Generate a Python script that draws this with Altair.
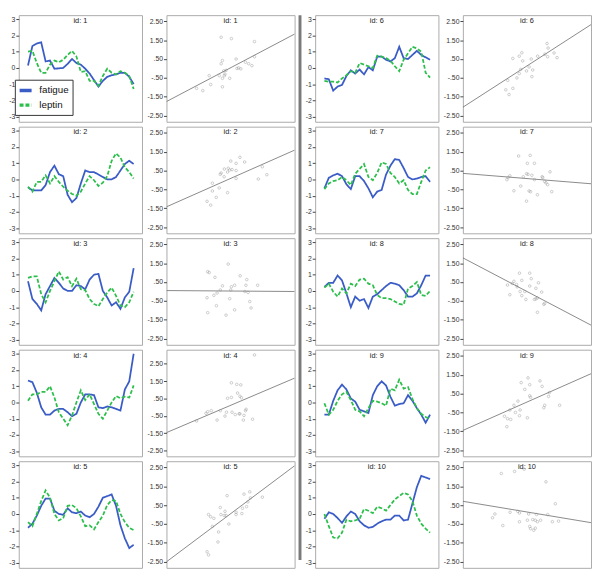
import altair as alt
import pandas as pd

days = list(range(1, 26))
ids = list(range(1, 11))
series_names = ["fatigue", "leptin"]

fatigue = [
    [0.15, 1.35, 1.5, 1.57, 0.4, 0.45, -0.05, -0.03, 0.0, 0.25, 0.55, 0.3, 0.2, -0.05, -0.35, -0.75, -1.15, -0.8, -0.55, -0.45, -0.4, -0.3, -0.3, -0.55, -1.0],
    [-0.48, -0.68, -0.68, -0.68, -0.35, 0.45, 0.85, 0.32, 0.2, -0.95, -1.4, -1.15, -0.25, 0.55, 0.45, 0.45, 0.3, 0.15, 0.0, 0.0, 0.15, 0.55, 0.95, 1.15, 0.95],
    [0.6, -0.5, -0.8, -1.2, -0.2, 0.3, 0.8, 0.5, 0.15, 0.0, 0.0, 0.35, 0.3, 0.1, 0.7, 1.0, 1.05, 0.0, -0.4, -0.9, -0.7, -1.1, -0.4, -0.05, 1.4],
    [1.35, 1.25, 0.6, -0.3, -0.75, -0.75, -0.5, -0.4, -0.4, -0.6, -0.85, -0.7, 0.0, 0.5, 0.5, 0.45, -0.3, -0.35, -0.25, -0.3, -0.4, -0.5, 0.8, 1.3, 3.0],
    [-0.85, -0.6, -0.1, 0.5, 0.95, 0.95, 0.2, 0.0, -0.05, 0.35, 0.1, 0.05, 0.15, -0.1, -0.2, 0.0, 0.45, 1.0, 1.1, 1.2, 0.5, -0.7, -1.5, -2.1, -1.9],
    [-0.65, -0.7, -1.4, -1.15, -1.05, -0.5, -0.15, -0.35, -0.1, -0.4, 0.05, -0.15, 0.7, 0.7, 0.5, 0.4, 0.6, 1.3, 0.6, 0.55, 0.8, 1.05, 0.8, 0.65, 0.5],
    [-0.55, 0.1, 0.25, 0.35, 0.2, -0.3, -0.6, 0.2, 0.2, -0.1, -0.55, -1.1, -0.75, -0.65, 0.3, 0.85, 1.25, 1.2, 0.7, 0.15, 0.0, 0.05, 0.15, 0.2, -0.15],
    [0.25, 0.5, 0.5, 0.95, 0.65, -0.15, -1.0, -0.35, -0.6, -0.5, -1.05, -0.35, -0.2, 0.05, 0.3, 0.5, 0.45, 0.35, 0.05, -0.35, -0.35, -0.15, 0.35, 0.95, 0.95],
    [-0.75, -0.75, 0.1, 0.75, 1.1, 0.8, 0.25, 0.05, -0.45, -0.55, -0.65, 0.45, 1.0, 1.3, 1.05, 0.35, -0.2, -0.1, -0.05, 0.45, 0.1, -0.35, -0.75, -1.25, -0.75],
    [-0.3, 0.1, 0.0, -0.25, -0.55, -0.15, 0.15, 0.0, -0.45, -0.7, -0.85, -0.8, -0.6, -0.45, -0.35, -0.35, -0.1, -0.1, -0.4, -0.35, 0.65, 1.65, 2.35, 2.25, 2.15],
]

leptin = [
    [1.0, 1.05, 0.3, -0.3, -0.3, 0.2, 0.45, 0.35, 0.5, 0.8, 1.05, 0.7, -0.25, -0.2, -0.8, -0.8, -1.1, -0.5, -0.05, -0.3, -0.4, -0.2, -0.3, -0.5, -1.3],
    [-0.45, -0.75, -0.15, -0.15, 0.25, -0.25, 0.2, -0.15, -0.45, -0.7, -0.9, -1.0, -0.75, -0.25, 0.2, -0.05, -0.4, -0.2, 0.2, 1.15, 1.6, 1.35, 0.75, 0.45, 0.05],
    [0.8, 0.9, 0.9, -0.2, -0.7, 0.0, 0.6, 1.2, 0.7, 0.85, 0.3, 0.75, 0.1, 0.05, -0.5, -0.8, -0.95, -0.5, -0.1, 0.2, -0.3, -0.9, -1.0, -0.7, -0.05],
    [0.1, 0.5, 0.5, 0.65, 0.65, 1.0, 0.3, -0.6, -1.0, -1.4, -0.8, 0.0, 0.75, 0.15, 0.5, -0.1, -0.7, -1.0, -0.5, 0.0, 0.4, 0.25, 0.35, 0.3, 1.05],
    [-0.5, -0.75, 0.0, 0.8, 1.45, 1.0, 0.0, -0.4, -0.25, 0.5, 0.55, 0.35, -0.15, -0.75, -0.7, -0.95, -0.5, -0.1, 0.55, 0.85, 0.8, 0.0, -0.5, -0.85, -1.0],
    [-0.8, -0.85, -0.85, -0.9, -0.65, -0.45, -0.2, -0.3, 0.3, 0.2, 0.1, 0.0, 0.75, 0.7, 0.6, 0.45, 0.1, -0.2, 0.5, 0.9, 1.3, 1.2, 1.0, -0.3, -0.6],
    [-0.6, -0.25, -0.1, -0.05, 0.15, -0.05, -0.35, 0.35, 0.65, 0.95, 0.15, -0.05, 0.4, 1.05, 0.95, 0.4, 0.15, -0.25, -0.05, -0.65, -0.9, -0.9, -0.15, 0.55, 0.75],
    [0.2, 0.45, -0.05, -0.35, 0.15, -0.15, 0.45, 0.3, 0.7, 0.75, 0.45, 0.35, -0.25, -0.45, -0.45, -0.5, -0.65, -0.8, -0.85, 0.15, 0.3, 0.55, -0.25, -0.3, 0.0],
    [-0.05, -0.75, -0.45, 0.1, 0.5, 0.65, 0.15, -0.45, -0.55, -0.85, -0.35, 0.1, 0.05, -0.05, -0.2, 0.85, 0.75, 1.4, 0.85, 0.95, 0.2, -0.35, -0.7, -0.9, -1.0],
    [0.0, -0.75, -1.45, -1.5, -1.15, -0.35, -0.45, -0.4, -0.3, 0.3, 0.2, 0.05, 0.45, 0.35, 0.2, 0.55, 0.9, 1.1, 1.3, 1.2, 0.8, -0.1, -0.6, -0.9, -1.15],
]

scatter_x = [
    [-1.59, -1.30, -1.0, -0.93, -0.53, -0.44, -0.38, -0.44, 0.04, -0.38, -0.38, -0.29, -0.32, -0.21, -0.04, 0.26, 0.30, 0.38, 0.48, 0.70, 0.85, 1.0, 1.12, 1.12, -0.26],
    [-1.10, -0.93, -0.85, -0.85, -0.67, -0.53, -0.48, -0.44, -0.30, -0.29, -0.14, -0.11, -0.04, 0.01, 0.07, 0.26, 0.26, 0.26, -0.14, 0.44, 0.66, 1.30, 1.49, 1.70],
    [-1.07, -1.0, -0.73, -0.11, 0.45, 0.76, 1.27, 0.72, 0.19, 0.04, -0.38, -0.48, 0.01, 0.67, 0.82, -0.63, -0.78, -1.10, -0.04, -0.66, 0.90, 0.96, 0.19, -1.07, -0.21],
    [1.12, 0.04, 0.29, 0.48, -0.14, 0.04, 0.33, 0.44, 0.51, 0.70, 0.73, -0.48, -0.19, 0.07, 0.22, 0.40, 0.44, 0.63, -1.15, -1.07, -0.90, -0.63, -0.26, 0.60, 1.03, -1.59],
    [-0.16, 0.63, 0.90, 0.93, 1.49, 0.81, 0.56, 0.75, 0.26, 0.26, -0.48, -0.26, -0.45, -0.30, -0.21, -1.03, -0.93, -0.78, -0.85, -0.08, -0.56, -0.59, -1.10, -1.03, 0.53],
    [0.94, 0.99, 0.84, 1.27, 0.97, 1.41, 0.50, 0.20, -0.24, -0.36, -0.66, -0.20, 0.10, -0.29, 0.27, -0.02, -0.36, -0.47, 0.23, -0.90, -0.66, -0.99, -0.84],
    [-0.39, 0.15, 0.02, 0.35, 1.08, -0.02, 0.05, 0.23, -0.17, 0.71, 0.74, -0.80, -0.88, -0.94, 0.35, 0.83, 0.89, -0.29, 0.97, -0.61, 0.10, 0.17, 0.49, 1.16, -0.02],
    [-0.35, 0.13, -0.61, -0.24, 0.20, 0.54, -0.91, -0.49, -0.46, -0.69, 0.13, 0.42, -0.10, 0.69, -0.80, -0.24, 0.49, -0.05, 0.35, 0.42, 0.83, 0.79, 0.49, -0.32],
    [0.05, -0.27, 0.13, 0.61, 0.71, -0.10, 0.13, 0.17, 1.05, 1.01, -0.42, -0.61, 0.83, 0.79, 1.53, -0.80, -0.54, -0.32, -0.35, -1.05, -0.91, -0.76, 0.02, -0.94],
    [-1.20, -0.58, -0.13, 0.89, 1.33, -1.50, -1.61, -1.13, -0.79, -0.43, -0.35, 0.08, 0.45, 0.97, -0.35, 0.02, 0.27, 0.39, 0.49, 0.64, 1.19, 1.48, 0.13, 0.17, 0.32, 0.39],
]

scatter_y = [
    [-1.05, -1.17, -0.38, -0.85, -0.38, 0.25, 0.42, 1.65, 1.58, -0.52, -0.97, -0.38, -0.13, -0.10, -0.52, 0.5, 0.0, 0.03, -0.02, 0.33, 0.25, 0.15, 0.62, 1.42, -0.3],
    [-1.13, -1.33, -0.17, -0.58, -0.92, -0.42, 0.30, 0.37, 0.17, 0.58, 0.42, 0.62, 0.53, 1.0, 0.55, 0.88, 0.5, 0.08, -0.67, 1.2, 0.95, 0.05, 0.7, 0.28],
    [1.05, 1.0, 0.75, 1.45, 0.83, 0.63, 0.33, 0.33, 0.33, 0.25, 0.30, 0.08, 0.08, 0.0, -0.05, -0.08, -0.2, -0.33, -0.38, -0.75, -0.53, -0.87, -0.97, -1.12, -1.25],
    [3.0, 1.40, 1.31, 1.28, 0.51, 0.56, 0.81, 0.63, 0.54, -0.2, -0.12, -0.2, -0.29, -0.29, -0.42, -0.38, -0.38, -0.47, -0.35, -0.26, -0.2, -0.74, -0.51, -0.74, -0.69, -0.79],
    [1.0, 1.08, 1.2, 0.88, 0.92, 0.67, 0.33, 0.42, 0.12, 0.0, 0.37, 0.17, 0.0, -0.05, -0.05, 0.0, -0.12, -0.2, -0.63, -0.5, -0.92, -1.45, -1.97, -2.13, 0.05],
    [1.32, 1.08, 0.75, 0.82, 0.62, 0.57, 0.65, 0.5, 0.83, 0.65, 0.53, 0.4, 0.08, -0.05, -0.08, -0.13, -0.27, -0.5, -0.43, -0.63, -1.05, -1.13, -1.38],
    [1.27, 1.3, 0.88, 0.88, 0.43, 0.33, 0.3, 0.25, 0.17, 0.17, 0.13, 0.22, 0.13, 0.02, 0.02, -0.08, -0.15, -0.32, -0.25, -0.57, -0.58, -0.62, -0.78, -0.62, -1.12],
    [0.97, 0.97, 0.54, 0.59, 0.68, 0.46, 0.34, 0.37, 0.25, 0.42, 0.29, 0.17, 0.0, -0.03, -0.17, -0.22, -0.34, -0.42, -0.42, -0.39, -0.63, -0.68, -1.10, 0.0],
    [1.33, 1.08, 0.97, 1.17, 0.88, 0.72, 0.38, 0.3, 0.55, 0.35, 0.1, -0.12, -0.12, -0.25, -0.12, -0.37, -0.5, -0.37, -0.67, -0.7, -0.83, -0.87, -0.78, -1.25],
    [2.17, 2.28, 2.4, 1.73, 0.57, 0.03, -0.17, -0.58, 0.12, 0.17, 0.08, 0.03, 0.0, 0.0, -0.38, -0.3, -0.27, -0.3, -0.38, -0.3, -0.38, -0.35, -0.63, -0.75, -0.83, -0.72],
]

# fitted line values at the left and right edges of each scatter panel
line_left = [-1.75, -1.42, 0.05, -1.46, -2.5, -2.05, 0.35, 1.78, -1.45, 0.7]
line_right = [1.82, 1.58, 0.0, 1.67, 2.58, 2.32, -0.2, -1.78, 1.55, -0.43]

# ---------------------------------------------------------------- styling
FONT = "Liberation Sans"
TS_W, SC_W, H, VSP = 126, 131, 109, 3
TOTAL_H = 5 * H + 4 * VSP
TS_DOM = [-3.32, 3.25]
SC_DOMS = [[-2.82, 2.82]] * 10
SC_DOMS[3] = [-2.82, 3.3]
X_SC = [-3, 3]

legend = alt.Legend(
    orient="none", legendX=-4, legendY=66, title=None,
    symbolType="stroke", symbolSize=150, symbolStrokeWidth=3.5,
    labelFontSize=10, labelFont=FONT, labelColor="#111",
    strokeColor="#333", fillColor="white", padding=3,
    rowPadding=0, labelOffset=6, cornerRadius=0,
)

ts_axis = alt.Axis(
    values=[-3, -2, -1, 0, 1, 2, 3], title=None, grid=False, domain=False,
    tickSize=3, tickColor="#444", labelFontSize=7, labelFont=FONT,
    labelColor="#333", labelPadding=1, labelExpr="datum.value + ''",
)
sc_axis = alt.Axis(
    values=[-2.5, -1.5, -0.5, 0.5, 1.5, 2.5], title=None, grid=False, domain=False,
    tickSize=3, tickColor="#444", labelFontSize=7, labelFont=FONT,
    labelColor="#333", labelPadding=1,
    labelExpr="replace(replace(format(datum.value, '.2f'), '\u2212', '-'), '0.', '.')",
)


def title_layer(i, w):
    return alt.Chart(pd.DataFrame({"t": [f"id: {i}"]})).mark_text(
        fontSize=7.5, font=FONT, color="#222", baseline="top"
    ).encode(x=alt.value(w / 2), y=alt.value(2), text="t:N")


def ts_panel(k):
    rows = []
    for d, f, l in zip(days, fatigue[k], leptin[k]):
        rows.append({"day": d, "value": f, "series": "fatigue"})
        rows.append({"day": d, "value": l, "series": "leptin"})
    df = pd.DataFrame(rows)
    lines = alt.Chart(df).mark_line(strokeWidth=1.8).encode(
        x=alt.X("day:Q", scale=alt.Scale(domain=[-1.1, 26.9], nice=False, zero=False), axis=None),
        y=alt.Y("value:Q", scale=alt.Scale(domain=TS_DOM, nice=False, zero=False), axis=ts_axis),
        color=alt.Color("series:N", scale=alt.Scale(domain=series_names, range=["#3a5cc6", "#2dbf4c"]), legend=legend),
        strokeDash=alt.StrokeDash("series:N", scale=alt.Scale(domain=series_names, range=[[1, 0], [4, 2]]), legend=legend),
    )
    return alt.layer(lines, title_layer(ids[k], TS_W)).properties(width=TS_W, height=H)


def sc_panel(k):
    df = pd.DataFrame({"x": scatter_x[k], "y": scatter_y[k]})
    ldf = pd.DataFrame({"x": X_SC, "y": [line_left[k], line_right[k]]})
    xenc = alt.X("x:Q", scale=alt.Scale(domain=X_SC, nice=False, zero=False), axis=None)
    yenc = alt.Y("y:Q", scale=alt.Scale(domain=SC_DOMS[k], nice=False, zero=False), axis=sc_axis)
    line = alt.Chart(ldf).mark_line(color="#6a6a6a", strokeWidth=0.8, clip=True).encode(x=xenc, y=yenc)
    pts = alt.Chart(df).mark_point(shape="circle", size=7, strokeWidth=0.6, color="#8c8c8c", filled=False).encode(x=xenc, y=yenc)
    return alt.layer(line, pts, title_layer(ids[k], SC_W)).properties(width=SC_W, height=H)


def half(start):
    ts_col = alt.vconcat(*[ts_panel(k) for k in range(start, start + 5)], spacing=VSP)
    sc_col = alt.vconcat(*[sc_panel(k) for k in range(start, start + 5)], spacing=VSP)
    return alt.hconcat(ts_col, sc_col, spacing=3)


sep = alt.Chart(pd.DataFrame({"a": [0]})).mark_rect(color="#7a7a7a").encode(
    x=alt.value(0), x2=alt.value(3), y=alt.value(0), y2=alt.value(TOTAL_H)
).properties(width=3, height=TOTAL_H, view=alt.ViewBackground(stroke="transparent"))

chart = alt.hconcat(half(0), sep, half(5), spacing=2).properties(
    padding=0, background="white"
).configure_view(stroke="#aaaaaa", strokeWidth=1)

chart.save("out.html", embed_options={"renderer": "svg", "actions": False})
